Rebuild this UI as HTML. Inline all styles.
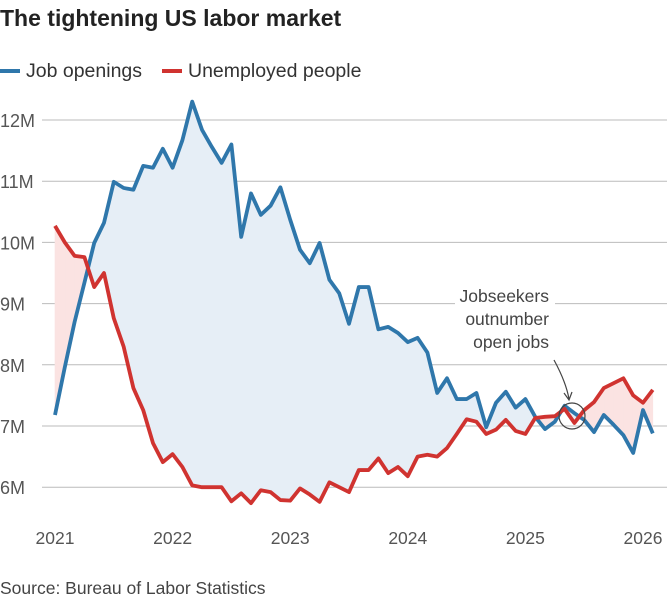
<!DOCTYPE html>
<html><head><meta charset="utf-8"><style>
body{margin:0;background:#fff;font-family:"Liberation Sans",sans-serif;}
svg text{font-family:"Liberation Sans",sans-serif;}
</style></head><body>
<svg id="c" width="667" height="600">
<text x="0" y="26" font-size="23" font-weight="bold" fill="#222">The tightening US labor market</text>
<g>
<line x1="0" y1="71" x2="20" y2="71" stroke="#2f77ab" stroke-width="4"/>
<text x="26" y="77" font-size="19.5" fill="#333">Job openings</text>
<line x1="162" y1="71" x2="182" y2="71" stroke="#d03330" stroke-width="4"/>
<text x="188" y="77" font-size="19.5" fill="#333">Unemployed people</text>
</g>
<g id="grid"></g><g id="fills"></g><g id="lines"></g><g id="ann"></g>
<text x="0" y="594" font-size="17.5" fill="#444">Source: Bureau of Labor Statistics</text>
</svg>
<script>
const yTicks=[6,7,8,9,10,11,12];
const yTickLabels=["6M","7M","8M","9M","10M","11M","12M"];
const xTickYears=[2021,2022,2023,2024,2025,2026];
const jobOpenings=[7.18,7.96,8.7,9.34,9.99,10.32,10.99,10.89,10.86,11.25,11.22,11.53,11.22,11.67,12.3,11.84,11.56,11.3,11.6,10.09,10.8,10.45,10.6,10.9,10.37,9.88,9.66,9.99,9.39,9.17,8.67,9.27,9.27,8.58,8.62,8.52,8.37,8.44,8.2,7.54,7.78,7.44,7.44,7.54,6.98,7.38,7.56,7.3,7.44,7.15,6.95,7.07,7.33,7.21,7.1,6.9,7.18,7.02,6.85,6.56,7.26,6.88];
const unemployed=[10.27,10.0,9.78,9.76,9.27,9.5,8.76,8.3,7.62,7.26,6.72,6.41,6.54,6.33,6.03,6.0,6.0,6.0,5.77,5.9,5.74,5.95,5.92,5.79,5.78,5.98,5.88,5.76,6.08,6.0,5.92,6.28,6.28,6.47,6.23,6.33,6.18,6.5,6.53,6.5,6.64,6.87,7.11,7.07,6.87,6.94,7.1,6.92,6.87,7.13,7.15,7.16,7.28,7.05,7.26,7.39,7.62,7.7,7.78,7.5,7.38,7.59];
const NS="http://www.w3.org/2000/svg";
const x=i=>55+i*(117.6/12);
const xYear=yr=>55+(yr-2021)*117.6;
const y=v=>120+(12-v)*61.2;
function mk(t,a,p){const e=document.createElementNS(NS,t);for(const k in a)e.setAttribute(k,a[k]);p.appendChild(e);return e;}
const grid=document.getElementById('grid');
yTicks.forEach((v,i)=>{
 const l=mk('line',{x1:42,x2:667,y1:y(v),y2:y(v),stroke:'#bbb','stroke-width':1},grid);
 
 
 const t=mk('text',{x:0,y:y(v)+7,'font-size':18,fill:'#555'},grid);t.textContent=yTickLabels[i];
 
 
});
xTickYears.forEach(yr=>{
 const t=mk('text',{x:xYear(yr),y:544,'font-size':17.5,fill:'#555','text-anchor':'middle'},grid);t.textContent=yr;
 
 
});
const fills=document.getElementById('fills');
for(let i=0;i<jobOpenings.length-1;i++){
 const a0=jobOpenings[i],a1=jobOpenings[i+1],b0=unemployed[i],b1=unemployed[i+1];
 const d0=a0-b0,d1=a1-b1;
 const segs=[];
 if(d0*d1<0){const t=d0/(d0-d1);const xm=x(i)+t*(x(i+1)-x(i));const vm=a0+t*(a1-a0);
  segs.push([[x(i),y(a0)],[xm,y(vm)],[x(i),y(b0)],d0>0]);
  segs.push([[xm,y(vm)],[x(i+1),y(a1)],[x(i+1),y(b1)],d1>0]);
 } else segs.push([[x(i),y(a0)],[x(i+1),y(a1)],[x(i+1),y(b1)],[x(i),y(b0)],(d0+d1)>0]);
 segs.forEach(s=>{const up=s.pop();const p=mk('polygon',{points:s.map(q=>q.join(',')).join(' '),fill:up?'#e6eef6':'#fbe3e2',stroke:up?'#e6eef6':'#fbe3e2','stroke-width':0.6},fills);
  
  });
}
const lines=document.getElementById('lines');
const pb=mk('polyline',{points:jobOpenings.map((v,i)=>x(i)+','+y(v)).join(' '),fill:'none',stroke:'#2f77ab','stroke-width':3.8,'stroke-linejoin':'round'},lines);


const pr=mk('polyline',{points:unemployed.map((v,i)=>x(i)+','+y(v)).join(' '),fill:'none',stroke:'#d03330','stroke-width':3.8,'stroke-linejoin':'round'},lines);


const ann=document.getElementById('ann');
const bg=mk('rect',{x:455,y:283,width:100,height:70,fill:'#fff'},ann);


["Jobseekers","outnumber","open jobs"].forEach((s,i)=>{const t=mk('text',{x:549,y:302+i*23,'font-size':17.5,fill:'#444','text-anchor':'end'},ann);t.textContent=s;
 
 });
const ar=mk('path',{d:'M554,360 Q566,382 569,399 M564,393 L569,400 L572,392',fill:'none',stroke:'#444','stroke-width':1.2},ann);


const ci=mk('circle',{cx:572,cy:416,r:13,fill:'none',stroke:'#444','stroke-width':1.2},ann);


</script>
</body></html>
